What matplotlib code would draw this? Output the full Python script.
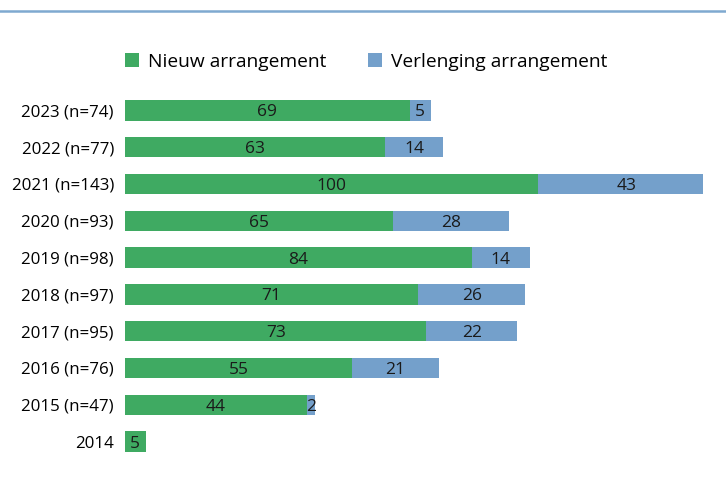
import matplotlib.pyplot as plt
from matplotlib.lines import Line2D

years = ["2023 (n=74)", "2022 (n=77)", "2021 (n=143)", "2020 (n=93)", "2019 (n=98)",
         "2018 (n=97)", "2017 (n=95)", "2016 (n=76)", "2015 (n=47)", "2014"]
nieuw = [69, 63, 100, 65, 84, 71, 73, 55, 44, 5]
verlenging = [5, 14, 43, 28, 14, 26, 22, 21, 2, 0]

green = "#3faa62"
blue = "#74a0cb"

plt.rcParams['font.family'] = ['Open Sans', 'DejaVu Sans']

fig = plt.figure(figsize=(7.26, 4.84), dpi=100)
# axis max 140: the 2021 bar runs past it and is cut off, as in the original
ax = fig.add_axes([125 / 726, 1 - 460 / 484, 578 / 726, 368 / 484])

ypos = list(range(len(years)))
ax.barh(ypos, nieuw, height=0.55, color=green, label="Nieuw arrangement")
ax.barh(ypos, verlenging, left=nieuw, height=0.55, color=blue, label="Verlenging arrangement")

for y, n, v in zip(ypos, nieuw, verlenging):
    ax.text(n / 2, y, str(n), ha="center", va="center_baseline", fontsize=12.5, color="#1a1a1a")
    if v > 0:
        ax.text(n + v / 2, y, str(v), ha="center", va="center_baseline", fontsize=12.5,
                color="#1a1a1a")

ax.set_xlim(0, 140)
ax.set_ylim(len(years) - 0.5, -0.5)
ax.set_yticks(ypos)
ax.set_yticklabels(years, fontsize=12.2)
ax.tick_params(axis="y", length=0, pad=8)
ax.set_xticks([])
for s in ax.spines.values():
    s.set_visible(False)

fig.legend(loc="center", bbox_to_anchor=(366 / 726, 1 - 62 / 484), ncol=2, frameon=False,
           fontsize=13.8, handlelength=0.75, handleheight=0.75, handletextpad=0.45,
           columnspacing=2.2)

fig.add_artist(Line2D([0, 1], [1 - 11 / 484, 1 - 11 / 484], color="#7fa9d0", lw=1.8,
                      transform=fig.transFigure))

fig.savefig("out.png", dpi=100)
